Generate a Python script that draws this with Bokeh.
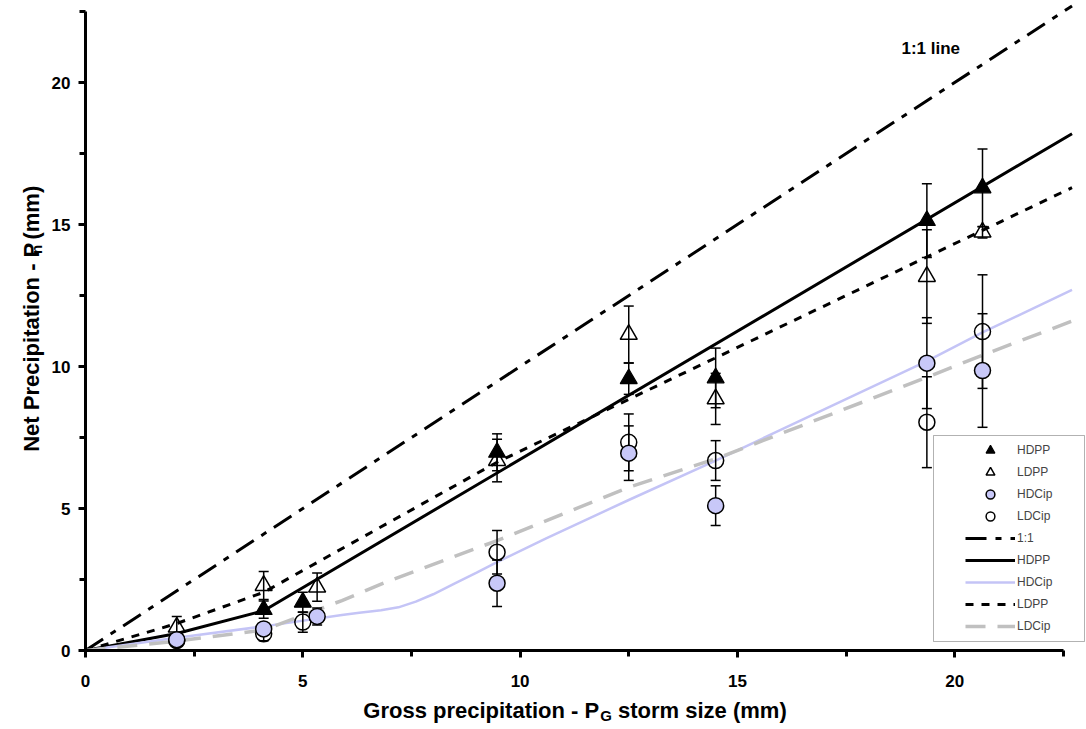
import math
from bokeh.plotting import figure
from bokeh.layouts import column, row
from bokeh.models import Range1d, SingleIntervalTicker, Label, Legend, LegendItem, BoxAnnotation
from bokeh.embed import file_html
from bokeh.resources import INLINE

# ---------------- data ----------------
hdpp_x = [4.1, 5.0, 9.47, 12.5, 14.5, 19.36, 20.64]
hdpp_y = [1.44, 1.70, 6.98, 9.57, 9.60, 15.14, 16.29]
hdpp_e = [0.30, 0.35, 0.65, 0.55, 1.05, 1.30, 1.37]

ldpp_x = [2.1, 4.1, 5.33, 9.47, 12.5, 14.5, 19.36, 20.64]
ldpp_y = [0.82, 2.29, 2.23, 6.69, 11.13, 8.86, 13.17, 14.73]
ldpp_e = [0.38, 0.49, 0.50, 0.75, 1.00, 0.90, 1.65, 0.20]

hdcip_x = [2.1, 4.1, 5.33, 9.47, 12.5, 14.5, 19.36, 20.64]
hdcip_y = [0.38, 0.76, 1.20, 2.37, 6.95, 5.10, 10.12, 9.86]
hdcip_e = [0.10, 0.20, 0.30, 0.82, 0.96, 0.70, 1.60, 2.00]

ldcip_x = [2.1, 4.1, 5.0, 9.47, 12.5, 14.5, 19.36, 20.64]
ldcip_y = [0.35, 0.59, 1.00, 3.46, 7.33, 6.69, 8.04, 11.23]
ldcip_e = [0.10, 0.25, 0.36, 0.77, 1.00, 0.70, 1.60, 2.00]

one_x = [0.0, 22.7]
one_y = [0.0, 22.7]

fit_hdpp_x = [0.0, 2.1, 4.1, 22.7]
fit_hdpp_y = [0.0, 0.6, 1.4, 18.2]

fit_ldpp_x = [0.0, 2.1, 4.1, 9.47, 22.7]
fit_ldpp_y = [0.0, 0.95, 2.05, 6.63, 16.3]

fit_hdcip_x = [0.0, 2.1, 4.1, 5.9, 6.3, 6.8, 7.2, 7.6, 8.0, 8.5, 9.0, 9.47, 10.6, 12.5, 14.5, 19.36, 20.64, 22.7]
fit_hdcip_y = [0.0, 0.45, 0.85, 1.25, 1.33, 1.42, 1.52, 1.72, 1.98, 2.36, 2.74, 3.11, 3.95, 5.30, 6.69, 10.19, 11.2, 12.7]

fit_ldcip_x = [0.0, 2.1, 4.1, 4.8, 5.9, 7.0, 9.47, 12.5, 14.5, 19.36, 20.64, 22.7]
fit_ldcip_y = [0.0, 0.33, 0.72, 1.12, 1.76, 2.46, 3.87, 5.75, 6.75, 9.62, 10.4, 11.6]

AXIS_MAX = 22.5

# ---------------- layout ----------------
W, H = 1086, 729
YLW = 48              # width of the y-title strip
FL, FW, FH = 85, 1000, 650
H1 = 690              # height of the main figure
XMAX = 23.01
YMAX = 22.89
XS = FW / XMAX
YS = FH / YMAX

def xd(px):
    return (px - FL) / XS

def yd(py):
    return (FH - py) / YS

p = figure(width=W - YLW, height=H1, output_backend="svg", toolbar_location=None,
           x_range=Range1d(0, XMAX), y_range=Range1d(0, YMAX),
           min_border_left=FL - YLW, min_border_right=W - FL - FW, min_border_top=0,
           min_border_bottom=H1 - FH)
p.outline_line_color = None
p.grid.visible = False
p.background_fill_color = "white"
p.border_fill_color = "white"

for ax in (p.xaxis[0], p.yaxis[0]):
    ax.ticker = SingleIntervalTicker(interval=5, num_minor_ticks=2)
    ax.bounds = (0, AXIS_MAX)
    ax.axis_line_width = 3
    ax.axis_line_color = "black"
    ax.major_tick_line_width = 3
    ax.minor_tick_line_width = 3
    ax.major_tick_in = 0
    ax.major_tick_out = 7
    ax.minor_tick_in = 0
    ax.minor_tick_out = 6
    ax.major_label_text_font = "Liberation Sans"
    ax.major_label_text_font_style = "bold"
    ax.major_label_text_font_size = "17px"
    ax.major_label_text_color = "black"
p.xaxis.major_label_standoff = 17
p.yaxis.major_label_standoff = 8

# lines
r_one = p.line(one_x, one_y, line_color="black", line_width=3, line_dash="21 9 6 9")
r_fh = p.line(fit_hdpp_x, fit_hdpp_y, line_color="black", line_width=3)
r_fhc = p.line(fit_hdcip_x, fit_hdcip_y, line_color="#c4c4f6", line_width=2.5)
r_fl = p.line(fit_ldpp_x, fit_ldpp_y, line_color="black", line_width=3, line_dash="8 8")
r_flc = p.line(fit_ldcip_x, fit_ldcip_y, line_color="#c0c0c0", line_width=3.5, line_dash="20 12")

# error bars
for xs, ys, es in ((hdpp_x, hdpp_y, hdpp_e), (ldpp_x, ldpp_y, ldpp_e),
                   (hdcip_x, hdcip_y, hdcip_e), (ldcip_x, ldcip_y, ldcip_e)):
    lo = [y - e for y, e in zip(ys, es)]
    hi = [y + e for y, e in zip(ys, es)]
    p.segment(x0=xs, y0=lo, x1=xs, y1=hi, line_color="black", line_width=1.5)
    p.scatter(xs + xs, lo + hi, marker="dash", size=10, line_color="black", line_width=1.5)

# markers
r_hdpp = p.scatter(hdpp_x, hdpp_y, marker="triangle", size=17, fill_color="black", line_color="black", line_width=1.2)
r_ldpp = p.scatter(ldpp_x, ldpp_y, marker="triangle", size=17, fill_color=None, line_color="black", line_width=1.5)
r_ldcip = p.scatter(ldcip_x, ldcip_y, marker="circle", size=16, fill_color=None, line_color="black", line_width=1.5)
r_hdcip = p.scatter(hdcip_x, hdcip_y, marker="circle", size=16, fill_color="#c8c8f8", line_color="black", line_width=1.5)

# legend box
box = BoxAnnotation(left=xd(933), right=xd(1084), top=yd(435), bottom=yd(641),
                    fill_color="white", fill_alpha=1.0, line_color="black", line_width=1)
p.add_layout(box)

legend = Legend(items=[
    LegendItem(label="HDPP", renderers=[r_hdpp]),
    LegendItem(label="LDPP", renderers=[r_ldpp]),
    LegendItem(label="HDCip", renderers=[r_hdcip]),
    LegendItem(label="LDCip", renderers=[r_ldcip]),
    LegendItem(label="1:1", renderers=[r_one]),
    LegendItem(label="HDPP", renderers=[r_fh]),
    LegendItem(label="HDCip", renderers=[r_fhc]),
    LegendItem(label="LDPP", renderers=[r_fl]),
    LegendItem(label="LDCip", renderers=[r_flc]),
], location=(965 - FL - 2, FH - 641 + 2), glyph_width=50, glyph_height=22, label_height=22,
    spacing=0, padding=2, margin=0, label_standoff=2,
    label_text_font="Liberation Sans", label_text_font_size="12px",
    border_line_alpha=0, background_fill_alpha=0)
p.add_layout(legend)

# 1:1 line annotation
p.add_layout(Label(x=xd(901), y=yd(57), text="1:1 line", text_font="Liberation Sans",
                   text_font_style="bold", text_font_size="17px", text_color="black"))

# ---------------- axis titles (with subscripts) ----------------
WID = {' ': 278, '(': 333, ')': 333, '-': 333, ':': 333, '1': 556, 'G': 778, 'N': 722,
       'P': 667, 'a': 556, 'c': 556, 'e': 556, 'i': 278, 'l': 278, 'm': 889, 'n': 611,
       'o': 611, 'p': 611, 'r': 389, 's': 556, 't': 333, 'z': 500}

def tw(s, size):
    return sum(WID.get(c, 556) for c in s) * size / 1000.0

FS = 22
SUB = 15
SP = tw(" ", FS)

def strip(w, h):
    f = figure(width=w, height=h, output_backend="svg", toolbar_location=None,
               x_range=Range1d(0, w), y_range=Range1d(0, h),
               x_axis_location=None, y_axis_location=None,
               min_border=0, min_border_left=0, min_border_right=0,
               min_border_top=0, min_border_bottom=0)
    f.outline_line_color = None
    f.grid.visible = False
    f.background_fill_color = "white"
    f.border_fill_color = "white"
    return f

def lab(f, x, y, text, size, angle=0.0):
    f.add_layout(Label(x=x, y=y, text=text, angle=angle, text_font="Liberation Sans",
                       text_font_style="bold", text_font_size=f"{size}px", text_color="black",
                       text_align="left", text_baseline="alphabetic"))

# x title strip (canvas rows H1..H)
xf = strip(W, H - H1)
xa, xb, xc = "Gross precipitation - P", "G", "storm size (mm)"
L = tw(xa, FS) + tw(xb, SUB) + SP + tw(xc, FS)
sx = (FL + 978 / 2) - L / 2
base = 710 - H1
yb_ = (H - H1) - base
lab(xf, sx, yb_, xa, FS)
lab(xf, sx + tw(xa, FS) + 1, yb_ - 5, xb, SUB)
lab(xf, sx + tw(xa, FS) + 1 + tw(xb, SUB) + SP, yb_, xc, FS)

# y title strip (canvas columns 0..YLW, rows 0..H1)
yf = strip(YLW, H1)
ya, yb, yc = "Net Precipitation - P", "n", "(mm)"
L = tw(ya, FS) + tw(yb, SUB) + SP + tw(yc, FS)
sy = 340 + L / 2          # screen y where the text starts (its bottom end)
bx = 31
lab(yf, bx, H1 - sy, ya, FS, math.pi / 2)
lab(yf, bx + 5, H1 - (sy - tw(ya, FS) - 1), yb, SUB, math.pi / 2)
lab(yf, bx, H1 - (sy - tw(ya, FS) - 1 - tw(yb, SUB) - SP), yc, FS, math.pi / 2)

layout = column(row(yf, p, spacing=0), xf, spacing=0)
open("out.html", "w").write(file_html(layout, INLINE))
